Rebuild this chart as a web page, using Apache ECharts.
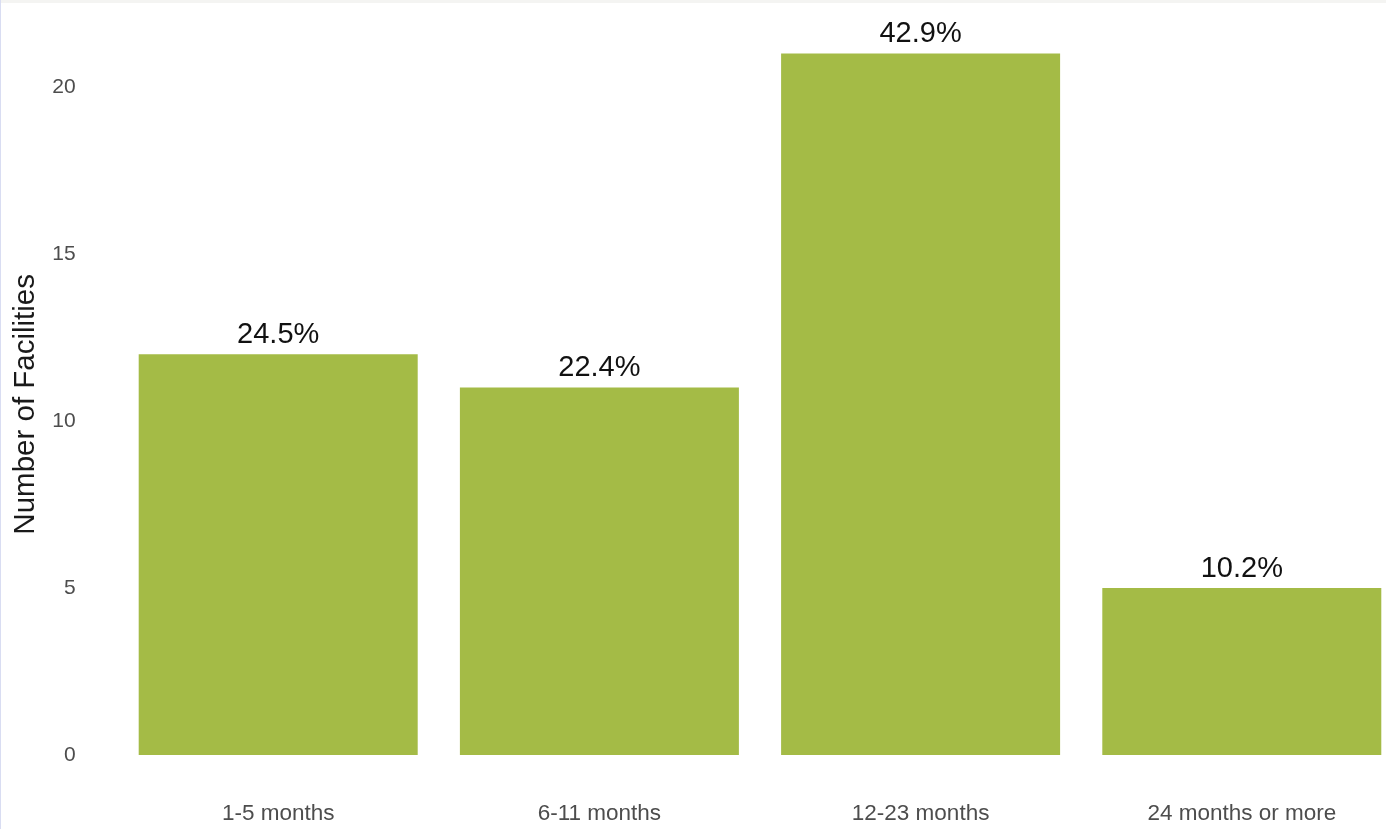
<!DOCTYPE html>
<html>
<head>
<meta charset="utf-8">
<script src="https://cdn.jsdelivr.net/npm/echarts@6/dist/echarts.min.js"></script>
<style>
html,body{margin:0;padding:0;background:#fff;overflow:hidden;width:1386px;height:829px;}
#chart{position:absolute;left:0;top:0;width:1420px;height:829px;}
#topstrip{position:absolute;left:0;top:0;width:1386px;height:3px;background:#f4f4f2;z-index:5;}
#leftline{position:absolute;left:0;top:0;width:1px;height:829px;background:#d9ddf2;z-index:5;}
</style>
</head>
<body>
<div id="chart"></div>
<div id="topstrip"></div>
<div id="leftline"></div>
<script>
const categories = ['1-5 months', '6-11 months', '12-23 months', '24 months or more'];
const counts = [12, 11, 21, 5];
const percentLabels = ['24.5%', '22.4%', '42.9%', '10.2%'];
const yTicks = [0, 5, 10, 15, 20];

const chart = echarts.init(document.getElementById('chart'));
chart.setOption({
  animation: false,
  backgroundColor: '#ffffff',
  grid: { left: 117.6, right: 17.6, top: 53.6, bottom: 74, containLabel: false },
  xAxis: {
    type: 'category',
    data: categories,
    axisLine: { show: false },
    axisTick: { show: false },
    axisLabel: { color: '#4d4d4d', fontSize: 22.5, fontFamily: 'Liberation Sans, Arial, sans-serif', margin: 47 }
  },
  yAxis: {
    type: 'value',
    min: 0,
    max: 21,
    interval: 5,
    name: 'Number of Facilities',
    nameLocation: 'middle',
    nameGap: 74,
    nameTextStyle: { color: '#1a1a1a', fontSize: 29.5, fontFamily: 'Liberation Sans, Arial, sans-serif' },
    axisLine: { show: false },
    axisTick: { show: false },
    splitLine: { show: false },
    axisLabel: {
      color: '#4d4d4d', fontSize: 21, fontFamily: 'Liberation Sans, Arial, sans-serif', margin: 42,
      showMaxLabel: false,
      formatter: v => (yTicks.indexOf(v) >= 0 ? String(v) : '')
    }
  },
  series: [{
    type: 'bar',
    data: counts,
    barWidth: 279,
    itemStyle: { color: '#a4bb46' },
    label: {
      show: true,
      position: 'top',
      distance: 5,
      color: '#111111',
      fontSize: 29,
      fontFamily: 'Liberation Sans, Arial, sans-serif',
      formatter: p => percentLabels[p.dataIndex]
    }
  }]
});
</script>
</body>
</html>
